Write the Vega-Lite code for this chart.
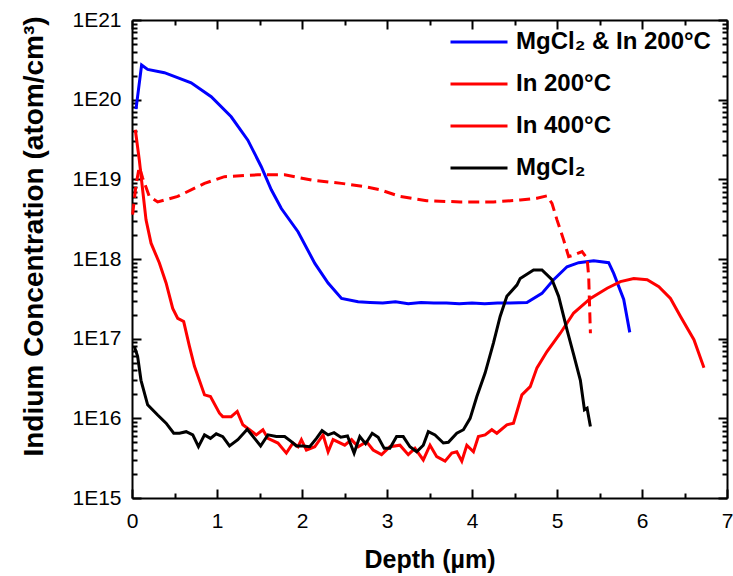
{
  "$schema": "https://vega.github.io/schema/vega-lite/v6.json",
  "width": 595,
  "height": 478,
  "autosize": "none",
  "padding": {"left": 132, "top": 20, "right": 6, "bottom": 78},
  "data": {
    "values": [
      {"s": "MgCl₂ & In 200°C", "x": 0.047, "y": 7.6e19},
      {"s": "MgCl₂ & In 200°C", "x": 0.113, "y": 2.72e20},
      {"s": "MgCl₂ & In 200°C", "x": 0.184, "y": 2.4e20},
      {"s": "MgCl₂ & In 200°C", "x": 0.381, "y": 2.18e20},
      {"s": "MgCl₂ & In 200°C", "x": 0.696, "y": 1.63e20},
      {"s": "MgCl₂ & In 200°C", "x": 0.932, "y": 1.09e20},
      {"s": "MgCl₂ & In 200°C", "x": 1.167, "y": 6.1e19},
      {"s": "MgCl₂ & In 200°C", "x": 1.363, "y": 3.1e19},
      {"s": "MgCl₂ & In 200°C", "x": 1.521, "y": 1.44e19},
      {"s": "MgCl₂ & In 200°C", "x": 1.639, "y": 7.4e18},
      {"s": "MgCl₂ & In 200°C", "x": 1.757, "y": 4.3e18},
      {"s": "MgCl₂ & In 200°C", "x": 1.953, "y": 2.2e18},
      {"s": "MgCl₂ & In 200°C", "x": 2.151, "y": 8.8e17},
      {"s": "MgCl₂ & In 200°C", "x": 2.307, "y": 5.0e17},
      {"s": "MgCl₂ & In 200°C", "x": 2.465, "y": 3.2e17},
      {"s": "MgCl₂ & In 200°C", "x": 2.66, "y": 2.9e17},
      {"s": "MgCl₂ & In 200°C", "x": 2.8, "y": 2.85e17},
      {"s": "MgCl₂ & In 200°C", "x": 2.95, "y": 2.8e17},
      {"s": "MgCl₂ & In 200°C", "x": 3.1, "y": 2.9e17},
      {"s": "MgCl₂ & In 200°C", "x": 3.25, "y": 2.75e17},
      {"s": "MgCl₂ & In 200°C", "x": 3.4, "y": 2.85e17},
      {"s": "MgCl₂ & In 200°C", "x": 3.55, "y": 2.8e17},
      {"s": "MgCl₂ & In 200°C", "x": 3.7, "y": 2.8e17},
      {"s": "MgCl₂ & In 200°C", "x": 3.85, "y": 2.75e17},
      {"s": "MgCl₂ & In 200°C", "x": 4.0, "y": 2.8e17},
      {"s": "MgCl₂ & In 200°C", "x": 4.15, "y": 2.75e17},
      {"s": "MgCl₂ & In 200°C", "x": 4.3, "y": 2.8e17},
      {"s": "MgCl₂ & In 200°C", "x": 4.45, "y": 2.8e17},
      {"s": "MgCl₂ & In 200°C", "x": 4.646, "y": 2.84e17},
      {"s": "MgCl₂ & In 200°C", "x": 4.823, "y": 3.7e17},
      {"s": "MgCl₂ & In 200°C", "x": 4.96, "y": 5.5e17},
      {"s": "MgCl₂ & In 200°C", "x": 5.118, "y": 8.0e17},
      {"s": "MgCl₂ & In 200°C", "x": 5.255, "y": 9.0e17},
      {"s": "MgCl₂ & In 200°C", "x": 5.432, "y": 9.5e17},
      {"s": "MgCl₂ & In 200°C", "x": 5.608, "y": 9.0e17},
      {"s": "MgCl₂ & In 200°C", "x": 5.667, "y": 6.6e17},
      {"s": "MgCl₂ & In 200°C", "x": 5.785, "y": 3.1e17},
      {"s": "MgCl₂ & In 200°C", "x": 5.856, "y": 1.2e17},

      {"s": "In 200°C", "x": 0.039, "y": 4.2e19},
      {"s": "In 200°C", "x": 0.086, "y": 1.75e19},
      {"s": "In 200°C", "x": 0.125, "y": 7.4e18},
      {"s": "In 200°C", "x": 0.165, "y": 3.1e18},
      {"s": "In 200°C", "x": 0.224, "y": 1.58e18},
      {"s": "In 200°C", "x": 0.322, "y": 8.9e17},
      {"s": "In 200°C", "x": 0.401, "y": 5.0e17},
      {"s": "In 200°C", "x": 0.479, "y": 2.4e17},
      {"s": "In 200°C", "x": 0.538, "y": 1.8e17},
      {"s": "In 200°C", "x": 0.608, "y": 1.64e17},
      {"s": "In 200°C", "x": 0.676, "y": 8.0e16},
      {"s": "In 200°C", "x": 0.735, "y": 4.5e16},
      {"s": "In 200°C", "x": 0.853, "y": 1.97e16},
      {"s": "In 200°C", "x": 0.923, "y": 1.88e16},
      {"s": "In 200°C", "x": 1.029, "y": 1.16e16},
      {"s": "In 200°C", "x": 1.068, "y": 1.05e16},
      {"s": "In 200°C", "x": 1.167, "y": 1.05e16},
      {"s": "In 200°C", "x": 1.238, "y": 1.22e16},
      {"s": "In 200°C", "x": 1.304, "y": 8.3e15},
      {"s": "In 200°C", "x": 1.383, "y": 7.2e15},
      {"s": "In 200°C", "x": 1.462, "y": 6.2e15},
      {"s": "In 200°C", "x": 1.54, "y": 7.2e15},
      {"s": "In 200°C", "x": 1.599, "y": 5.6e15},
      {"s": "In 200°C", "x": 1.717, "y": 4.9e15},
      {"s": "In 200°C", "x": 1.816, "y": 3.66e15},
      {"s": "In 200°C", "x": 1.894, "y": 4.9e15},
      {"s": "In 200°C", "x": 1.953, "y": 4.4e15},
      {"s": "In 200°C", "x": 1.993, "y": 5.4e15},
      {"s": "In 200°C", "x": 2.052, "y": 4.0e15},
      {"s": "In 200°C", "x": 2.15, "y": 4.4e15},
      {"s": "In 200°C", "x": 2.248, "y": 6.2e15},
      {"s": "In 200°C", "x": 2.307, "y": 3.8e15},
      {"s": "In 200°C", "x": 2.366, "y": 5.4e15},
      {"s": "In 200°C", "x": 2.503, "y": 4.6e15},
      {"s": "In 200°C", "x": 2.583, "y": 5.4e15},
      {"s": "In 200°C", "x": 2.66, "y": 4.4e15},
      {"s": "In 200°C", "x": 2.759, "y": 5.1e15},
      {"s": "In 200°C", "x": 2.837, "y": 4.0e15},
      {"s": "In 200°C", "x": 2.936, "y": 3.5e15},
      {"s": "In 200°C", "x": 3.034, "y": 4.4e15},
      {"s": "In 200°C", "x": 3.152, "y": 4.6e15},
      {"s": "In 200°C", "x": 3.25, "y": 3.5e15},
      {"s": "In 200°C", "x": 3.329, "y": 4.2e15},
      {"s": "In 200°C", "x": 3.427, "y": 3.0e15},
      {"s": "In 200°C", "x": 3.506, "y": 4.6e15},
      {"s": "In 200°C", "x": 3.585, "y": 3.3e15},
      {"s": "In 200°C", "x": 3.683, "y": 2.9e15},
      {"s": "In 200°C", "x": 3.762, "y": 3.66e15},
      {"s": "In 200°C", "x": 3.821, "y": 3.8e15},
      {"s": "In 200°C", "x": 3.88, "y": 2.9e15},
      {"s": "In 200°C", "x": 3.939, "y": 4.6e15},
      {"s": "In 200°C", "x": 4.017, "y": 3.8e15},
      {"s": "In 200°C", "x": 4.075, "y": 5.9e15},
      {"s": "In 200°C", "x": 4.154, "y": 6.2e15},
      {"s": "In 200°C", "x": 4.233, "y": 7.2e15},
      {"s": "In 200°C", "x": 4.292, "y": 6.5e15},
      {"s": "In 200°C", "x": 4.41, "y": 8.3e15},
      {"s": "In 200°C", "x": 4.488, "y": 8.7e15},
      {"s": "In 200°C", "x": 4.587, "y": 1.97e16},
      {"s": "In 200°C", "x": 4.685, "y": 2.5e16},
      {"s": "In 200°C", "x": 4.764, "y": 4.3e16},
      {"s": "In 200°C", "x": 4.882, "y": 6.9e16},
      {"s": "In 200°C", "x": 5.039, "y": 1.17e17},
      {"s": "In 200°C", "x": 5.196, "y": 2.1e17},
      {"s": "In 200°C", "x": 5.393, "y": 3.2e17},
      {"s": "In 200°C", "x": 5.59, "y": 4.3e17},
      {"s": "In 200°C", "x": 5.746, "y": 5.2e17},
      {"s": "In 200°C", "x": 5.903, "y": 5.7e17},
      {"s": "In 200°C", "x": 6.061, "y": 5.5e17},
      {"s": "In 200°C", "x": 6.198, "y": 4.5e17},
      {"s": "In 200°C", "x": 6.335, "y": 3.2e17},
      {"s": "In 200°C", "x": 6.453, "y": 1.9e17},
      {"s": "In 200°C", "x": 6.611, "y": 9.7e16},
      {"s": "In 200°C", "x": 6.729, "y": 4.3e16},

      {"s": "In 400°C", "x": 0.007, "y": 3.6e18},
      {"s": "In 400°C", "x": 0.047, "y": 8.5e18},
      {"s": "In 400°C", "x": 0.086, "y": 1.44e19},
      {"s": "In 400°C", "x": 0.125, "y": 1.04e19},
      {"s": "In 400°C", "x": 0.204, "y": 6.1e18},
      {"s": "In 400°C", "x": 0.302, "y": 5.2e18},
      {"s": "In 400°C", "x": 0.538, "y": 6.1e18},
      {"s": "In 400°C", "x": 0.853, "y": 8.9e18},
      {"s": "In 400°C", "x": 1.088, "y": 1.08e19},
      {"s": "In 400°C", "x": 1.481, "y": 1.14e19},
      {"s": "In 400°C", "x": 1.796, "y": 1.14e19},
      {"s": "In 400°C", "x": 2.111, "y": 9.8e18},
      {"s": "In 400°C", "x": 2.465, "y": 8.9e18},
      {"s": "In 400°C", "x": 2.739, "y": 8.1e18},
      {"s": "In 400°C", "x": 2.916, "y": 7.4e18},
      {"s": "In 400°C", "x": 3.152, "y": 6.1e18},
      {"s": "In 400°C", "x": 3.467, "y": 5.4e18},
      {"s": "In 400°C", "x": 3.86, "y": 5.2e18},
      {"s": "In 400°C", "x": 4.252, "y": 5.2e18},
      {"s": "In 400°C", "x": 4.567, "y": 5.5e18},
      {"s": "In 400°C", "x": 4.764, "y": 5.8e18},
      {"s": "In 400°C", "x": 4.882, "y": 6.2e18},
      {"s": "In 400°C", "x": 4.941, "y": 5.0e18},
      {"s": "In 400°C", "x": 5.0, "y": 3.1e18},
      {"s": "In 400°C", "x": 5.078, "y": 1.74e18},
      {"s": "In 400°C", "x": 5.137, "y": 1.07e18},
      {"s": "In 400°C", "x": 5.196, "y": 1.12e18},
      {"s": "In 400°C", "x": 5.295, "y": 1.24e18},
      {"s": "In 400°C", "x": 5.354, "y": 1.02e18},
      {"s": "In 400°C", "x": 5.373, "y": 6.0e17},
      {"s": "In 400°C", "x": 5.393, "y": 1.17e17},

      {"s": "MgCl₂", "x": 0.027, "y": 8.0e16},
      {"s": "MgCl₂", "x": 0.066, "y": 6.0e16},
      {"s": "MgCl₂", "x": 0.106, "y": 3.0e16},
      {"s": "MgCl₂", "x": 0.184, "y": 1.48e16},
      {"s": "MgCl₂", "x": 0.302, "y": 1.1e16},
      {"s": "MgCl₂", "x": 0.401, "y": 8.7e15},
      {"s": "MgCl₂", "x": 0.491, "y": 6.5e15},
      {"s": "MgCl₂", "x": 0.558, "y": 6.5e15},
      {"s": "MgCl₂", "x": 0.637, "y": 6.8e15},
      {"s": "MgCl₂", "x": 0.715, "y": 6.2e15},
      {"s": "MgCl₂", "x": 0.782, "y": 4.4e15},
      {"s": "MgCl₂", "x": 0.853, "y": 6.2e15},
      {"s": "MgCl₂", "x": 0.923, "y": 5.6e15},
      {"s": "MgCl₂", "x": 0.991, "y": 6.4e15},
      {"s": "MgCl₂", "x": 1.068, "y": 5.9e15},
      {"s": "MgCl₂", "x": 1.147, "y": 4.5e15},
      {"s": "MgCl₂", "x": 1.245, "y": 5.4e15},
      {"s": "MgCl₂", "x": 1.356, "y": 7.3e15},
      {"s": "MgCl₂", "x": 1.442, "y": 5.6e15},
      {"s": "MgCl₂", "x": 1.513, "y": 4.5e15},
      {"s": "MgCl₂", "x": 1.599, "y": 6.2e15},
      {"s": "MgCl₂", "x": 1.698, "y": 5.9e15},
      {"s": "MgCl₂", "x": 1.796, "y": 5.9e15},
      {"s": "MgCl₂", "x": 1.875, "y": 5.1e15},
      {"s": "MgCl₂", "x": 1.934, "y": 4.5e15},
      {"s": "MgCl₂", "x": 2.012, "y": 4.5e15},
      {"s": "MgCl₂", "x": 2.091, "y": 4.4e15},
      {"s": "MgCl₂", "x": 2.17, "y": 5.6e15},
      {"s": "MgCl₂", "x": 2.236, "y": 7.0e15},
      {"s": "MgCl₂", "x": 2.307, "y": 6.2e15},
      {"s": "MgCl₂", "x": 2.377, "y": 6.6e15},
      {"s": "MgCl₂", "x": 2.456, "y": 5.8e15},
      {"s": "MgCl₂", "x": 2.535, "y": 6.0e15},
      {"s": "MgCl₂", "x": 2.613, "y": 3.66e15},
      {"s": "MgCl₂", "x": 2.68, "y": 5.9e15},
      {"s": "MgCl₂", "x": 2.748, "y": 4.8e15},
      {"s": "MgCl₂", "x": 2.826, "y": 6.5e15},
      {"s": "MgCl₂", "x": 2.896, "y": 5.8e15},
      {"s": "MgCl₂", "x": 2.967, "y": 4.2e15},
      {"s": "MgCl₂", "x": 3.034, "y": 4.2e15},
      {"s": "MgCl₂", "x": 3.113, "y": 5.9e15},
      {"s": "MgCl₂", "x": 3.191, "y": 5.9e15},
      {"s": "MgCl₂", "x": 3.27, "y": 4.4e15},
      {"s": "MgCl₂", "x": 3.349, "y": 3.8e15},
      {"s": "MgCl₂", "x": 3.427, "y": 4.6e15},
      {"s": "MgCl₂", "x": 3.486, "y": 6.8e15},
      {"s": "MgCl₂", "x": 3.565, "y": 6.2e15},
      {"s": "MgCl₂", "x": 3.663, "y": 4.9e15},
      {"s": "MgCl₂", "x": 3.722, "y": 5.0e15},
      {"s": "MgCl₂", "x": 3.821, "y": 6.5e15},
      {"s": "MgCl₂", "x": 3.899, "y": 7.2e15},
      {"s": "MgCl₂", "x": 3.978, "y": 1.0e16},
      {"s": "MgCl₂", "x": 4.057, "y": 1.88e16},
      {"s": "MgCl₂", "x": 4.154, "y": 3.7e16},
      {"s": "MgCl₂", "x": 4.252, "y": 8.8e16},
      {"s": "MgCl₂", "x": 4.331, "y": 1.9e17},
      {"s": "MgCl₂", "x": 4.41, "y": 3.4e17},
      {"s": "MgCl₂", "x": 4.528, "y": 4.7e17},
      {"s": "MgCl₂", "x": 4.567, "y": 5.7e17},
      {"s": "MgCl₂", "x": 4.724, "y": 7.3e17},
      {"s": "MgCl₂", "x": 4.823, "y": 7.3e17},
      {"s": "MgCl₂", "x": 4.941, "y": 5.5e17},
      {"s": "MgCl₂", "x": 5.019, "y": 3.4e17},
      {"s": "MgCl₂", "x": 5.118, "y": 1.29e17},
      {"s": "MgCl₂", "x": 5.196, "y": 6.3e16},
      {"s": "MgCl₂", "x": 5.275, "y": 3.0e16},
      {"s": "MgCl₂", "x": 5.323, "y": 1.28e16},
      {"s": "MgCl₂", "x": 5.354, "y": 1.34e16},
      {"s": "MgCl₂", "x": 5.393, "y": 7.9e15}
    ]
  },
  "layer": [
    {
      "transform": [{"filter": "datum.s !== 'In 400°C'"}],
      "mark": {"type": "line", "strokeWidth": 3},
      "encoding": {
        "x": {
          "field": "x", "type": "quantitative",
          "scale": {"domain": [0, 7], "nice": false, "zero": false},
          "axis": {
            "orient": "bottom",
            "title": "Depth (µm)",
            "titleFontSize": 25,
            "titleY": 69,
            "titleBaseline": "alphabetic",
            "values": [0, 1, 2, 3, 4, 5, 6, 7],
            "format": "d",
            "tickSize": -9,
            "labelPadding": 21,
            "labelFlush": false,
            "labelOverlap": false
          }
        },
        "y": {
          "field": "y", "type": "quantitative",
          "scale": {"type": "log", "domain": [1e15, 1e21], "nice": false},
          "axis": {
            "orient": "left",
            "title": "Indium Concentration (atom/cm³)",
            "titleFontSize": 28,
            "titleAngle": -90,
            "titleX": -90,
            "titleY": 216,
            "titleAlign": "center",
            "titleBaseline": "alphabetic",
            "values": [1e15, 1e16, 1e17, 1e18, 1e19, 1e20, 1e21],
            "labelExpr": "'1E' + round(log(datum.value)/LN10)",
            "tickSize": -9,
            "labelPadding": 20,
            "labelFlush": false,
            "labelOverlap": false
          }
        },
        "color": {
          "field": "s", "type": "nominal",
          "scale": {
            "domain": ["MgCl₂ & In 200°C", "In 200°C", "In 400°C", "MgCl₂"],
            "range": ["#0000ff", "#ff0000", "#ff0000", "#000000"]
          },
          "legend": {
            "title": null, "orient": "none", "legendX": 317, "legendY": -8,
            "symbolType": "stroke", "symbolSize": 3249, "symbolStrokeWidth": 3,
            "labelFontSize": 24, "labelFont": "Liberation Sans", "labelFontWeight": "bold", "labelColor": "black",
            "labelOffset": 7, "labelLimit": 400, "rowPadding": 0
          }
        }
      }
    },
    {
      "transform": [{"filter": "datum.s === 'In 400°C'"}],
      "mark": {"type": "line", "strokeWidth": 3, "strokeDash": [11, 6]},
      "encoding": {
        "x": {"field": "x", "type": "quantitative", "axis": null},
        "y": {"field": "y", "type": "quantitative", "axis": null},
        "color": {"field": "s", "type": "nominal"}
      }
    },
    {
      "mark": {"type": "point", "opacity": 0},
      "encoding": {
        "x": {"field": "x", "type": "quantitative", "axis": {"orient": "top", "title": null, "labels": false, "values": [0, 1, 2, 3, 4, 5, 6, 7], "tickSize": -9}},
        "y": {"field": "y", "type": "quantitative", "axis": {"orient": "right", "title": null, "labels": false, "values": [1e15, 1e16, 1e17, 1e18, 1e19, 1e20, 1e21], "tickSize": -9}}
      }
    },
    {
      "mark": {"type": "point", "opacity": 0},
      "encoding": {
        "x": {"field": "x", "type": "quantitative", "axis": {"orient": "bottom", "title": null, "labels": false, "domain": false, "values": [0.5, 1.5, 2.5, 3.5, 4.5, 5.5, 6.5], "tickSize": -5}},
        "y": {"field": "y", "type": "quantitative", "axis": {"orient": "left", "title": null, "labels": false, "domain": false, "values": [2e15,3e15,4e15,5e15,6e15,7e15,8e15,9e15,2e16,3e16,4e16,5e16,6e16,7e16,8e16,9e16,2e17,3e17,4e17,5e17,6e17,7e17,8e17,9e17,2e18,3e18,4e18,5e18,6e18,7e18,8e18,9e18,2e19,3e19,4e19,5e19,6e19,7e19,8e19,9e19,2e20,3e20,4e20,5e20,6e20,7e20,8e20,9e20], "tickSize": -5}}
      }
    },
    {
      "mark": {"type": "point", "opacity": 0},
      "encoding": {
        "x": {"field": "x", "type": "quantitative", "axis": {"orient": "top", "title": null, "labels": false, "domain": false, "values": [0.5, 1.5, 2.5, 3.5, 4.5, 5.5, 6.5], "tickSize": -5}},
        "y": {"field": "y", "type": "quantitative", "axis": {"orient": "right", "title": null, "labels": false, "domain": false, "values": [2e15,3e15,4e15,5e15,6e15,7e15,8e15,9e15,2e16,3e16,4e16,5e16,6e16,7e16,8e16,9e16,2e17,3e17,4e17,5e17,6e17,7e17,8e17,9e17,2e18,3e18,4e18,5e18,6e18,7e18,8e18,9e18,2e19,3e19,4e19,5e19,6e19,7e19,8e19,9e19,2e20,3e20,4e20,5e20,6e20,7e20,8e20,9e20], "tickSize": -5}}
      }
    }
  ],
  "resolve": {"axis": {"x": "independent", "y": "independent"}},
  "config": {
    "view": {"stroke": null},
    "axis": {
      "grid": false,
      "labelFont": "Liberation Sans",
      "labelFontSize": 21,
      "labelColor": "black",
      "titleFont": "Liberation Sans",
      "titleFontWeight": "bold",
      "titleColor": "black",
      "domainColor": "black",
      "domainWidth": 2,
      "tickColor": "black",
      "tickWidth": 2
    }
  }
}
